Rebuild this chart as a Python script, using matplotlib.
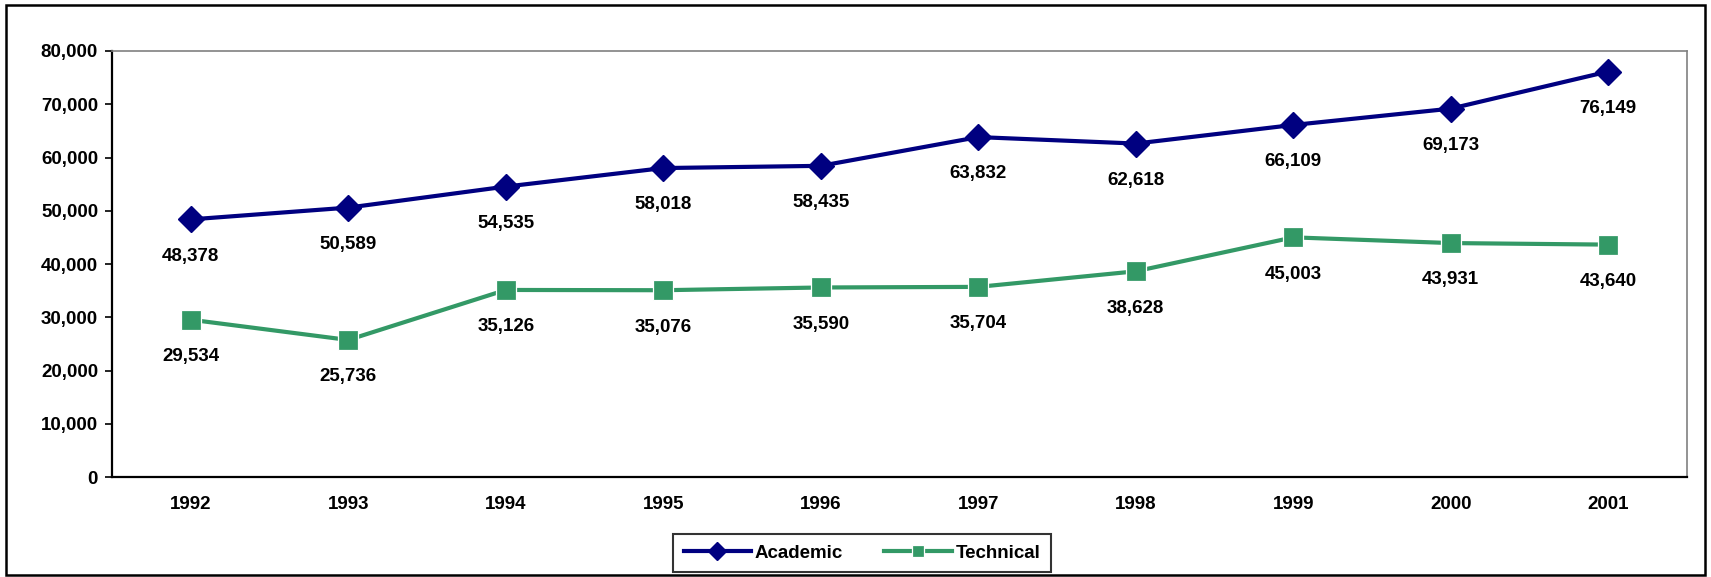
import matplotlib.pyplot as plt
from matplotlib.patches import Rectangle
from matplotlib.ticker import FuncFormatter

plt.rcParams['font.family'] = ['Liberation Sans', 'DejaVu Sans']
plt.rcParams['font.weight'] = 'bold'

years = ['1992', '1993', '1994', '1995', '1996', '1997', '1998', '1999', '2000', '2001']
academic = [48378, 50589, 54535, 58018, 58435, 63832, 62618, 66109, 69173, 76149]
technical = [29534, 25736, 35126, 35076, 35590, 35704, 38628, 45003, 43931, 43640]

NAVY = '#000080'
GREEN = '#339966'
FS = 13.5

W, H = 1711, 577
fig = plt.figure(figsize=(W / 100, H / 100), dpi=100)
ax = fig.add_axes([112 / W, 1 - 477 / H, (1687 - 112) / W, (477 - 51) / H])

x = list(range(len(years)))
ax.plot(x, academic, color=NAVY, lw=3, marker='D', ms=13,
        mec=NAVY, mfc=NAVY, label='Academic', zorder=3)
ax.plot(x, technical, color=GREEN, lw=3, marker='s', ms=14,
        mec='white', mew=0.9, mfc=GREEN, label='Technical', zorder=3)

# data labels below each point
for xi, v in zip(x, academic):
    ax.annotate(f'{v:,}', (xi, v), xytext=(0, -26.5), textcoords='offset points',
                ha='center', va='center', fontsize=FS, fontweight='bold')
for xi, v in zip(x, technical):
    ax.annotate(f'{v:,}', (xi, v), xytext=(0, -26.5), textcoords='offset points',
                ha='center', va='center', fontsize=FS, fontweight='bold')

ax.set_xlim(-0.5, len(years) - 0.5)
ax.set_ylim(0, 80000)
ax.set_yticks(range(0, 80001, 10000))
ax.yaxis.set_major_formatter(FuncFormatter(lambda v, p: f'{int(v):,}'))
ax.set_xticks(x)
ax.set_xticklabels(years)
ax.tick_params(axis='y', direction='out', length=5, width=1.2, labelsize=FS, pad=5)
ax.tick_params(axis='x', length=0, labelsize=FS, pad=14)

for s in ['left', 'bottom']:
    ax.spines[s].set_color('black')
    ax.spines[s].set_linewidth(1.6)
for s in ['top', 'right']:
    ax.spines[s].set_color('#808080')
    ax.spines[s].set_linewidth(1.2)

leg = ax.legend(loc='center', bbox_to_anchor=((862 - 112) / 1575, (477 - 553) / 426),
                ncol=2, frameon=True, fancybox=False, fontsize=FS,
                handlelength=3.6, columnspacing=2.2, borderpad=0.55,
                handletextpad=0.2)
leg.get_frame().set_edgecolor('black')
leg.get_frame().set_linewidth(1.5)
for lh in leg.get_lines():
    lh.set_markersize(9)

# outer chart border
fig.patches.append(Rectangle((6 / W, 2 / H), (1705 - 6) / W, (572 - 2) / H,
                             transform=fig.transFigure, fill=False,
                             edgecolor='black', lw=1.8))

fig.savefig('out.png', dpi=100)
